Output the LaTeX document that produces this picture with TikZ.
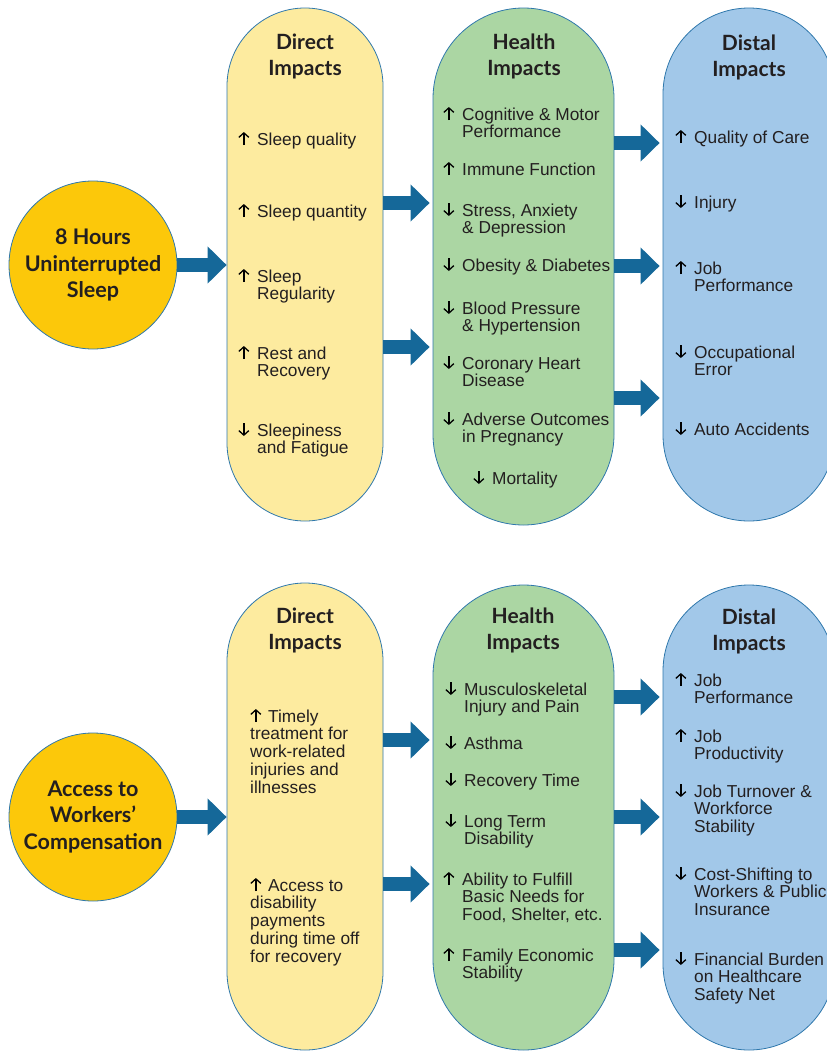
\documentclass[tikz,border=0pt]{standalone}
\usepackage{fontspec}
\setmainfont{Liberation Sans}
\newfontfamily\headfont{Lato}
\usetikzlibrary{arrows.meta}

\definecolor{pillyel}{HTML}{FDEB9F}
\definecolor{pillgrn}{HTML}{ABD6A3}
\definecolor{pillblu}{HTML}{A2C8E9}
\definecolor{sunyel}{HTML}{FCC80A}
\definecolor{arrblu}{HTML}{156899}
\definecolor{edgeblu}{HTML}{2F78AC}
\definecolor{ink}{HTML}{231F20}

\newcommand{\upa}{\tikz[baseline=0pt]\draw[black, line width=1.3pt, -{Straight Barb[length=4.5pt,width=10pt]}] (0pt,0pt) -- (0pt,13pt);}
\newcommand{\dna}{\tikz[baseline=0pt]\draw[black, line width=1.3pt, -{Straight Barb[length=4.5pt,width=10pt]}] (0pt,13pt) -- (0pt,0pt);}
\newcommand{\incr}[1]{\makebox[19pt][l]{\upa}\begin{tabular}[t]{@{}l@{}}#1\end{tabular}}
\newcommand{\decr}[1]{\makebox[19pt][l]{\dna}\begin{tabular}[t]{@{}l@{}}#1\end{tabular}}
\newcommand{\flush}[1]{\begin{tabular}[t]{@{}l@{}}#1\end{tabular}}
\newcommand{\hdr}[2]{\begin{tabular}[t]{@{}c@{}}#1\\#2\end{tabular}}

\tikzset{
  pill/.style={draw=edgeblu, line width=0.8pt, rectangle, inner sep=0pt},
  hub/.style={circle, draw=edgeblu, line width=0.8pt, fill=sunyel, minimum size=168pt,
    inner sep=0pt, align=center, text=ink, font=\headfont\bfseries\fontsize{21.5}{26.5}\selectfont},
  head/.style={anchor=base, inner sep=0pt, text=ink, font=\headfont\bfseries\fontsize{21}{26}\selectfont},
  item/.style={anchor=base west, inner sep=0pt, text=ink, font=\fontsize{17.3}{17.8}\selectfont},
  bigarr/.style={arrblu, line width=14pt, -{Triangle[length=19pt,width=36pt]}},
}

\begin{document}
\begin{tikzpicture}[x=1pt, y=-1pt]
  \useasboundingbox (0,0) rectangle (827,1052);
  \clip (0,0) rectangle (827,1052);

  % sleep
  \node[hub] (hub1) at (93,265) {8 Hours\\Uninterrupted\\Sleep};
  \node[pill, fill=pillyel, minimum width=156pt, minimum height=513pt, rounded corners=78pt] (dir1) at (305,264.5) {};
  \node[pill, fill=pillgrn, minimum width=181pt, minimum height=517pt, rounded corners=90.5pt] (hlth1) at (523.5,266.5) {};
  \node[pill, fill=pillblu, minimum width=172pt, minimum height=513pt, rounded corners=86pt] (dist1) at (749,264.5) {};
  \node[head] (dir1h) at (305,49) {\hdr{Direct}{Impacts}};
  \node[head] (hlth1h) at (524,49) {\hdr{Health}{Impacts}};
  \node[head] (dist1h) at (749,50) {\hdr{Distal}{Impacts}};

  \draw[bigarr] (hub1.east) -- (dir1.west |- hub1.east);
  \draw[bigarr, shorten >=3pt] (dir1.east |- 0,203) -- (hlth1.west |- 0,203);
  \draw[bigarr, shorten >=3pt] (dir1.east |- 0,347) -- (hlth1.west |- 0,347);
  \draw[bigarr, shorten >=3pt] (hlth1.east |- 0,143) -- (dist1.west |- 0,143);
  \draw[bigarr, shorten >=3pt] (hlth1.east |- 0,266) -- (dist1.west |- 0,266);
  \draw[bigarr, shorten >=3pt] (hlth1.east |- 0,398) -- (dist1.west |- 0,398);

  \node[item] (d1a) at (238,145) {\incr{Sleep quality}};
  \node[item] (d1b) at (238,217) {\incr{Sleep quantity}};
  \node[item] (d1c) at (238,282) {\incr{Sleep\\Regularity}};
  \node[item] (d1d) at (238,359) {\incr{Rest and\\Recovery}};
  \node[item] (d1e) at (238,436) {\decr{Sleepiness\\and Fatigue}};

  \node[item] (h1a) at (443,120) {\incr{Cognitive \& Motor\\Performance}};
  \node[item] (h1b) at (443,175) {\incr{Immune Function}};
  \node[item] (h1c) at (443,216) {\decr{Stress, Anxiety\\\& Depression}};
  \node[item] (h1d) at (443,271) {\decr{Obesity \& Diabetes}};
  \node[item] (h1e) at (443,314) {\decr{Blood Pressure\\\& Hypertension}};
  \node[item] (h1f) at (443,369) {\decr{Coronary Heart\\Disease}};
  \node[item] (h1g) at (443,425) {\decr{Adverse Outcomes\\in Pregnancy}};
  \node[item] (h1h) at (473,484) {\decr{Mortality}};

  \node[item] (s1a) at (675,143) {\incr{Quality of Care}};
  \node[item] (s1b) at (675,208) {\decr{Injury}};
  \node[item] (s1c) at (675,274) {\incr{Job\\Performance}};
  \node[item] (s1d) at (675,358) {\decr{Occupational\\Error}};
  \node[item] (s1e) at (675,435) {\decr{Auto Accidents}};

  % workers' compensation
  \node[hub] (hub2) at (93,817) {Access to\\Workers’\\Compensation};
  \node[pill, fill=pillyel, minimum width=156pt, minimum height=467pt, rounded corners=78pt] (dir2) at (305,816.5) {};
  \node[pill, fill=pillgrn, minimum width=181pt, minimum height=465pt, rounded corners=90.5pt] (hlth2) at (523.5,817.5) {};
  \node[pill, fill=pillblu, minimum width=172pt, minimum height=465pt, rounded corners=86pt] (dist2) at (749,817.5) {};
  \node[head] (dir2h) at (305,623) {\hdr{Direct}{Impacts}};
  \node[head] (hlth2h) at (523,623) {\hdr{Health}{Impacts}};
  \node[head] (dist2h) at (749,624) {\hdr{Distal}{Impacts}};

  \draw[bigarr] (hub2.east) -- (dir2.west |- hub2.east);
  \draw[bigarr, shorten >=3pt] (dir2.east |- 0,740) -- (hlth2.west |- 0,740);
  \draw[bigarr, shorten >=3pt] (dir2.east |- 0,884) -- (hlth2.west |- 0,884);
  \draw[bigarr, shorten >=3pt] (hlth2.east |- 0,697) -- (dist2.west |- 0,697);
  \draw[bigarr, shorten >=3pt] (hlth2.east |- 0,817) -- (dist2.west |- 0,817);
  \draw[bigarr, shorten >=3pt] (hlth2.east |- 0,950) -- (dist2.west |- 0,950);

  \node[item] (d2a) at (250,722) {\flush{\makebox[18pt][l]{\upa}Timely\\treatment for\\work-related\\injuries and\\illnesses}};
  \node[item] (d2b) at (250,891) {\flush{\makebox[18pt][l]{\upa}Access to\\disability\\payments\\during time off\\for recovery}};

  \node[item] (h2a) at (445,695) {\decr{Musculoskeletal\\Injury and Pain}};
  \node[item] (h2b) at (445,749) {\decr{Asthma}};
  \node[item] (h2c) at (445,786) {\decr{Recovery Time}};
  \node[item] (h2d) at (445,827) {\decr{Long Term\\Disability}};
  \node[item] (h2e) at (443,885) {\incr{Ability to Fulfill\\Basic Needs for\\Food, Shelter, etc.}};
  \node[item] (h2f) at (443,961) {\incr{Family Economic\\Stability}};

  \node[item] (s2a) at (675,686) {\incr{Job\\Performance}};
  \node[item] (s2b) at (675,742) {\incr{Job\\Productivity}};
  \node[item] (s2c) at (675,797) {\decr{Job Turnover \&\\Workforce\\Stability}};
  \node[item] (s2d) at (675,880) {\decr{Cost-Shifting to\\Workers \& Public\\Insurance}};
  \node[item] (s2e) at (675,965) {\decr{Financial Burden\\on Healthcare\\Safety Net}};
\end{tikzpicture}
\end{document}
